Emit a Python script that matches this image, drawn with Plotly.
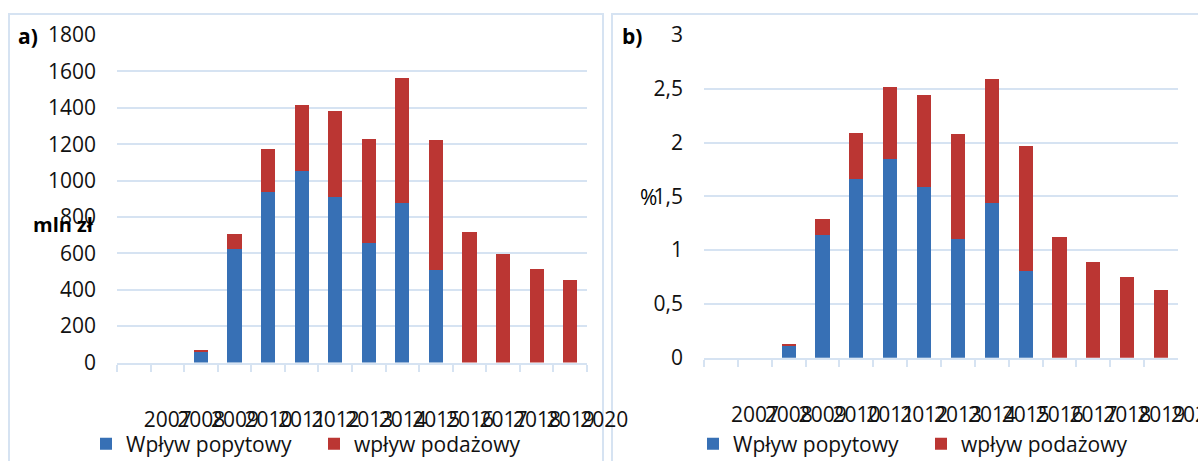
import plotly.graph_objects as go

years = ["2007", "2008", "2009", "2010", "2011", "2012", "2013",
         "2014", "2015", "2016", "2017", "2018", "2019", "2020"]

# panel a) mln zł
a_popyt = [0, 0, 57, 622, 938, 1052, 910, 656, 876, 510, 0, 0, 0, 0]
a_podaz = [0, 0, 14, 84, 236, 364, 473, 572, 688, 713, 718, 597, 515, 455]

# panel b) %
b_popyt = [0, 0, 0.11, 1.14, 1.66, 1.85, 1.59, 1.10, 1.44, 0.81, 0, 0, 0, 0]
b_podaz = [0, 0, 0.02, 0.15, 0.43, 0.67, 0.85, 0.98, 1.15, 1.16, 1.12, 0.89, 0.75, 0.63]

name_popyt = "Wpływ popytowy"
name_podaz = "wpływ podażowy"

BLUE = "#3770b5"
RED = "#bb3633"
GRID = "#d6e3f2"
FONT = "Open Sans"
W, H = 1198, 461

fig = go.Figure()
fig.add_trace(go.Bar(x=years, y=a_popyt, name=name_popyt, marker_color=BLUE,
                     marker_line_width=0, xaxis="x", yaxis="y", legend="legend"))
fig.add_trace(go.Bar(x=years, y=a_podaz, name=name_podaz, marker_color=RED,
                     marker_line_width=0, xaxis="x", yaxis="y", legend="legend"))
fig.add_trace(go.Bar(x=years, y=b_popyt, name=name_popyt, marker_color=BLUE,
                     marker_line_width=0, xaxis="x2", yaxis="y2", legend="legend2"))
fig.add_trace(go.Bar(x=years, y=b_podaz, name=name_podaz, marker_color=RED,
                     marker_line_width=0, xaxis="x2", yaxis="y2", legend="legend2"))

def px_x(v):
    return v / W

def px_y(v):
    return (H - v) / H

xcommon = dict(type="category", showline=True, linecolor=GRID, linewidth=2,
               ticks="outside", ticklen=7, tickcolor=GRID, tickwidth=2,
               tickson="boundaries", tickangle=0, tickmode="linear", tick0=0, dtick=1,
               showgrid=False, tickfont=dict(family=FONT, size=21, color="#111111"),
               ticklabelstandoff=37, fixedrange=True, automargin=False)
ycommon = dict(showgrid=True, gridcolor=GRID, gridwidth=2, zeroline=False,
               showline=False, ticks="", ticklabelstandoff=20,
               tickfont=dict(family=FONT, size=21, color="#111111"), fixedrange=True,
               automargin=False)

legend_common = dict(orientation="h", xanchor="left", yanchor="middle",
                     font=dict(family=FONT, size=21, color="#111111"),
                     entrywidth=183, traceorder="normal", bgcolor="rgba(0,0,0,0)",
                     itemwidth=30)

fig.update_layout(
    width=W, height=H, margin=dict(l=0, r=0, t=0, b=0, autoexpand=False),
    paper_bgcolor="white", plot_bgcolor="white",
    barmode="stack", bargap=0.58, separators=", ",
    font=dict(family=FONT, color="#111111"),
    xaxis=dict(domain=[px_x(117), px_x(587)], anchor="y",
               ticklabelshift=34, **xcommon),
    yaxis=dict(domain=[px_y(362.5), px_y(35)], anchor="x", range=[0, 1800],
               dtick=200, **ycommon),
    xaxis2=dict(domain=[px_x(704), px_x(1178)], anchor="y2",
                ticklabelshift=34, **xcommon),
    yaxis2=dict(domain=[px_y(357.7), px_y(35)], anchor="x2", range=[0, 3],
                dtick=0.5, **ycommon),
    legend=dict(x=px_x(86), y=px_y(444), **legend_common),
    legend2=dict(x=px_x(693), y=px_y(444), **legend_common),
    showlegend=True,
)

# panel borders
fig.add_shape(type="rect", xref="paper", yref="paper",
              x0=px_x(9), x1=px_x(603), y0=-0.05, y1=px_y(14),
              line=dict(color=GRID, width=2), layer="below")
fig.add_shape(type="rect", xref="paper", yref="paper",
              x0=px_x(612), x1=1.05, y0=-0.05, y1=px_y(14),
              line=dict(color=GRID, width=2), layer="below")

# panel labels and units
fig.add_annotation(text="<b>a)</b>", xref="paper", yref="paper", x=px_x(16), y=px_y(36),
                   xanchor="left", yanchor="middle", showarrow=False,
                   font=dict(family=FONT, size=21, color="#000000"))
fig.add_annotation(text="<b>b)</b>", xref="paper", yref="paper", x=px_x(620), y=px_y(36),
                   xanchor="left", yanchor="middle", showarrow=False,
                   font=dict(family=FONT, size=21, color="#000000"))
fig.add_annotation(text="<b>mln zł</b>", xref="paper", yref="paper", x=px_x(31), y=px_y(224),
                   xanchor="left", yanchor="middle", showarrow=False,
                   font=dict(family=FONT, size=20, color="#000000"))
fig.add_annotation(text="%", xref="paper", yref="paper", x=px_x(638), y=px_y(197),
                   xanchor="left", yanchor="middle", showarrow=False,
                   font=dict(family=FONT, size=21, color="#000000"))

fig.write_html("out.html",
               config={"displayModeBar": False},
               post_script="document.body.style.margin='0px';"
                           "document.body.style.padding='0px';"
                           "document.body.style.overflow='hidden';")
